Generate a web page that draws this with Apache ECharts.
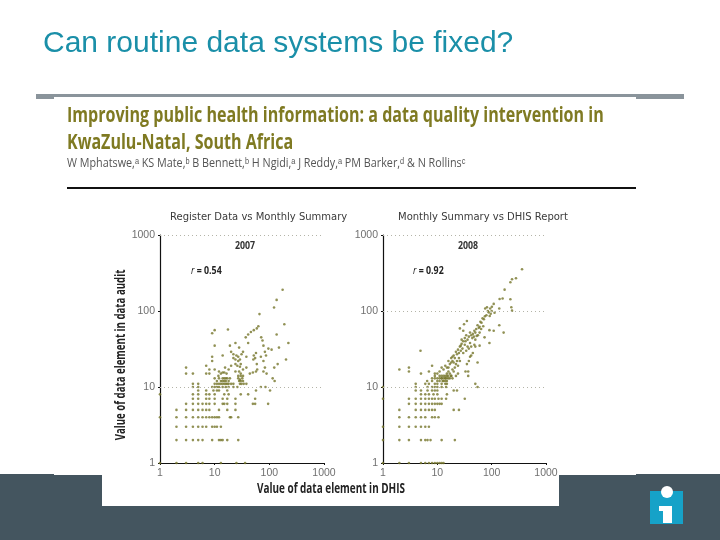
<!DOCTYPE html>
<html><head><meta charset="utf-8">
<style>html,body{margin:0;padding:0;background:#fff}#c{width:720px;height:540px}</style>
<script src="https://cdn.jsdelivr.net/npm/echarts@6/dist/echarts.min.js"></script>
</head><body><div id="c"></div>
<script>
const slideTitle = 'Can routine data systems be fixed?';
const paperTitle1 = 'Improving public health information: a data quality intervention in';
const paperTitle2 = 'KwaZulu-Natal, South Africa';
const authors = 'W Mphatswe,ᵃ KS Mate,ᵇ B Bennett,ᵇ H Ngidi,ᵃ J Reddy,ᵃ PM Barker,ᵈ & N Rollinsᶜ';
const leftCaption = 'Register Data vs Monthly Summary';
const rightCaption = 'Monthly Summary vs DHIS Report';
const yName = 'Value of data element in data audit';
const xName = 'Value of data element in DHIS';
const leftGridValues = [10, 1000];
const rightGridValues = [10, 100, 1000];

// rows at low integer audit values: [audit value, DHIS values...]
const rows2007 = [
 [1, 1,2,3,5,6,13,25,36],
 [2, 2,3,4,5,6,9,12,13,14,17,27],
 [3, 2,3,4,5,6,7,9,10,11,13],
 [4, 1,2,3,4,5,6,7,8,9,10,11,12,19,20,27],
 [5, 2,3,4,5,6,7,8,12,17,24],
 [6, 3,4,5,6,7,8,10,14,15,17,24,50,55,95],
 [7, 4,5,7,8,10,14,17,24,55],
 [8, 1,4,5,7,8,10,15,18,30,41],
 [9, 5,7,9.5,11,12,17,57,103],
 [10, 4,5,9,10,11,12,14,16,18,22,26,70,85],
 [11, 4,5,10,11,12,13,14,15,16,17,18,20,22,29,31,34,38],
 [12, 11,13,14,15,16,18,28,30,33,125],
 [13, 10,12,14,15,16,17,19,27,32,115]
];
const scatter2007 = [
 [175,190],[136,140],[122,111],[66,91],[188,67],[136,49],[223,38],[17.5,57],[10,56],[9,51],[10,35],
 [63,63],[59,59],[52,56],[46,53],[41,49],[37,45],[41,38],[24,38],[28,33],[19,35],[71,45],[75,41],
 [78,35],[96,32],[110,31],[150,33],[57,28],[83,29],[87,26],[14,26],[9,25],[9,22],[20,29],[22,27],
 [25,26],[27,25],[33,29],[31,27],[38,25],[52,26],[55,24],[51,23],[59,20],[70,25],[78,22],[83,18],
 [78,16],[89,15],[202,23],[142,20],[123,18],[3,18],[3,15],[4,15],[7,19],[8,17],[7,15],[8,15],
 [10,17],[12,16],[15.5,18],[18,17],[20,19],[24,20],[27,22],[29,18.5],[33,17],[38,18],[44,15],
 [50,15.5],[57,16],[60,17],[11.7,14],[13,15],[14,15.5],[15,15.5],[16.5,15],[27,14],[30,15],[29,12.5],
 [24,16],[28,16],[30,14],[33,14],[26,19],[22,24],[24,23],[29,23],[30,20]
];
const rows2008 = [
 [1, 1,2,3,5,6,7,8,9,10,11,12,13],
 [2, 1,2,3,5,6,6.6,7.5,12,21],
 [3, 1,2,3,4,5,6,7],
 [4, 2,3,4,5,6,8,9,10.5],
 [5, 2,4,5,6,7,8,9,20,25],
 [6, 3,4,5,6,7,8,9,10,11,12],
 [7, 1,3,4,5,6,7,8,9,10.5,12,14.5,32],
 [8, 5,6,7,8.5,10,15],
 [9, 4,5,6.6,8,9,10,20,23],
 [10, 1,4,6.6,8,9,10,12,14.5,55],
 [11, 4,6,7,9,10,12,14,15,50],
 [12, 6.5,8,10,11,12.5,14,15],
 [13, 8,9,10,11,12,13,14,15,16,17,19],
 [14, 9,11,12,13,14,15,16,18,37]
];
const scatter2008 = [
 [362,355],[280,270],[237,262],[221,239],[173,191],[159,146],[140,144],[221,143],[230,112],[237,101],
 [109,124],[101,114],[94,108],[82,112],[76,108],[138,108],[113,95],[138,65],[166,52],[91,56],[109,55],
 [74,45],[91,38],[35,74],[31,67],[26,59],[30,55],[4.9,30],[2,17],[3,18],[3,16],[5,15],[7,16],[8,19],
 [100,100],[96,92],[88,96],[92,86],[85,100],[80,88],[75,85],[72,78],[68,80],[65,70],[62,72],[60,62],
 [58,60],[55,65],[52,58],[50,52],[48,55],[45,50],[42,48],[40,52],[38,46],[36,42],[34,48],[33,40],
 [32,36],[30,40],[29,32],[28,37],[27,30],[26,34],[25,28],[24,31],[23,27],[22,29],[21,24],[20,26],
 [19,22],[18,24],[17,20],[16,22],[15,18],[14,19],[13,17],[12,18],[11,16],[10,15],[9,15],
 [22,20],[24,19],[21,18],[23,22],[20,21],[19,25],[18,21],[25,24],[27,35],[32,44],[28,42],[40,38],
 [44,44],[47,46],[50,42],[53,47],[56,48],[60,52],[64,58],[70,63],[36,34],[30,28],[34,30],[38,32],
 [42,34],[48,36],[55,21],[37,16],[33,16],[35,20],[38,22],[42,26],[40,25],[45,28],[50,34],[60,35],
 [15,15],[16,16],[17,15],[18,14],[19,17],[20,16],[24,15],[22,14],[13,12],[12,13],[14,13],[16,18],[26,22]
];

function flatten(rows, extra) {
  const out = [];
  rows.forEach(r => r.slice(1).forEach(x => out.push([x, r[0]])));
  return out.concat(extra);
}
const olive = '#75752a', grey = '#707070', sans = '"Open Sans",sans-serif';
const axisCommon = (i) => ({
  type: 'log', logBase: 10, min: 1, max: 1000, gridIndex: i,
  axisLine: {show: true, onZero: false, lineStyle: {color: '#111', width: 1.2}},
  axisTick: {show: true, length: 2, lineStyle: {color: '#111'}},
  minorTick: {show: false}, splitLine: {show: false},
  axisLabel: {color: grey, fontFamily: '"Liberation Sans"', fontSize: 10.5, margin: 5,
    showMinLabel: true, showMaxLabel: true, formatter: v => String(Math.round(v))}
});
const series = (i, data, gridVals) => ({
  type: 'scatter', xAxisIndex: i, yAxisIndex: i, data, symbolSize: 2.6, clip: false,
  itemStyle: {color: olive}, silent: true,
  markLine: {silent: true, symbol: 'none', label: {show: false},
    lineStyle: {color: '#b4b4a8', type: [1, 3], width: 1},
    data: gridVals.map(v => ({yAxis: v}))}
});
const t = (x, y, text, font, fill, sx) => ({type: 'text', x, y, scaleX: sx || 1, silent: true,
  style: {text, font, fill, textAlign: 'left', textVerticalAlign: 'middle'}});
const r = (x, y, value) => ({type: 'text', x, y, scaleX: 0.8, silent: true,
  style: {text: '{i|r} = ' + value, fill: '#222', font: 'bold 11px ' + sans, textAlign: 'left', textVerticalAlign: 'middle',
    rich: {i: {font: 'italic 11px ' + sans, fill: '#222'}}}});

const graphic = [
  {type: 'rect', z: -10, shape: {x: 0, y: 474, width: 720, height: 66}, style: {fill: '#44555f'}},
  {type: 'rect', z: -9, shape: {x: 36, y: 94, width: 648, height: 5}, style: {fill: '#8a949b'}},
  {type: 'rect', z: -8, shape: {x: 54, y: 97, width: 582, height: 378}, style: {fill: '#fff'}},
  {type: 'rect', z: -8, shape: {x: 102, y: 474, width: 457, height: 32}, style: {fill: '#fff'}},
  {type: 'rect', z: -7, shape: {x: 67, y: 187, width: 569, height: 2}, style: {fill: '#111'}},
  {type: 'rect', z: -7, shape: {x: 650, y: 491, width: 33, height: 33}, style: {fill: '#16a2c8'}},
  {type: 'circle', z: -6, shape: {cx: 667, cy: 492, r: 6}, style: {fill: '#fff'}},
  {type: 'polygon', z: -6, shape: {points: [[659,506],[672,506],[672,523],[663,523],[663,511],[659,511]]}, style: {fill: '#fff'}},
  t(43, 43, slideTitle, '30px "Liberation Sans"', '#1a8fa8'),
  t(67, 116, paperTitle1, 'bold 22px ' + sans, '#7f7a22', 0.73),
  t(67, 143, paperTitle2, 'bold 22px ' + sans, '#7f7a22', 0.73),
  t(67, 163, authors, '13px ' + sans, '#555', 0.83),
  t(170, 217, leftCaption, '10px "DejaVu Sans"', '#3a3a3a'),
  t(398, 217, rightCaption, '10px "DejaVu Sans"', '#3a3a3a'),
  t(235, 246, '2007', 'bold 11px ' + sans, '#333', 0.8),
  t(458, 246, '2008', 'bold 11px ' + sans, '#333', 0.8),
  r(191, 271, '0.54'),
  r(413, 271, '0.92'),
  t(257, 489, xName, 'bold 14px ' + sans, '#222', 0.71),
  {type: 'text', x: 121, y: 355, rotation: Math.PI / 2, scaleX: 0.69, silent: true,
    style: {text: yName, font: 'bold 14px ' + sans, fill: '#222', textAlign: 'center', textVerticalAlign: 'middle'}}
];
graphic[8].y = 44;

const chart = echarts.init(document.getElementById('c'), null, {renderer: 'canvas'});
chart.setOption({
  animation: false,
  backgroundColor: '#fff',
  graphic,
  grid: [
    {left: 160, top: 235, width: 164, height: 228},
    {left: 383, top: 235, width: 163, height: 228}
  ],
  xAxis: [axisCommon(0), axisCommon(1)],
  yAxis: [axisCommon(0), axisCommon(1)],
  series: [
    series(0, flatten(rows2007, scatter2007), leftGridValues),
    series(1, flatten(rows2008, scatter2008), rightGridValues)
  ]
});
</script></body></html>
